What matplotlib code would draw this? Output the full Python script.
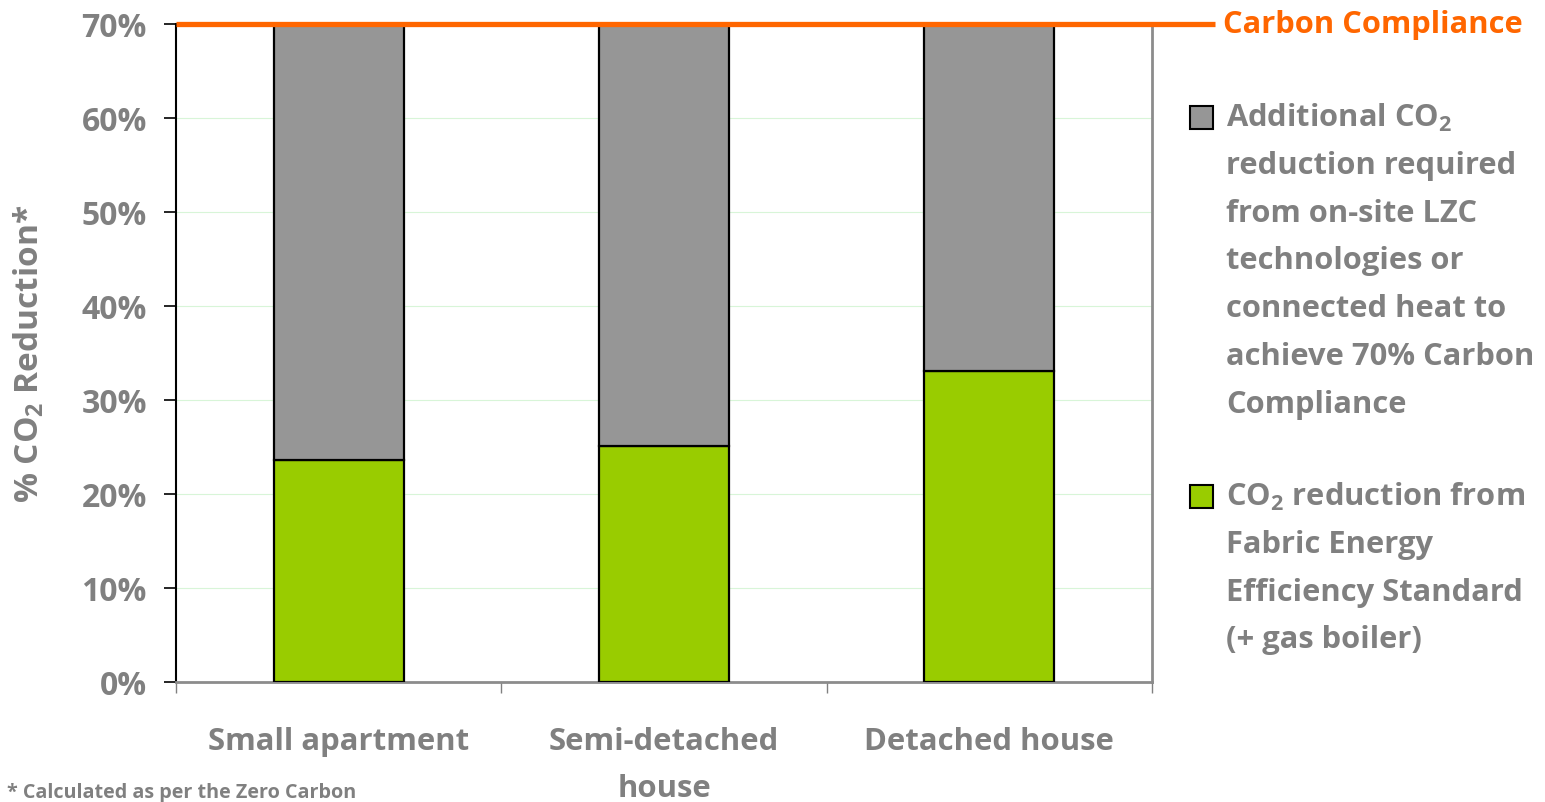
import matplotlib.pyplot as plt
from matplotlib.patches import Rectangle
from matplotlib.transforms import blended_transform_factory

plt.rcParams['font.family'] = ['Open Sans', 'DejaVu Sans']
plt.rcParams['font.weight'] = 'bold'

categories = ['Small apartment', 'Semi-detached\nhouse', 'Detached house']
fabric = [23.6, 25.1, 33.1]
target = 70
additional = [target - v for v in fabric]
yticks = [0, 10, 20, 30, 40, 50, 60, 70]
legend_grey = ['Additional CO$_\\mathregular{2}$', 'reduction required', 'from on-site LZC',
               'technologies or', 'connected heat to', 'achieve 70% Carbon', 'Compliance']
legend_green = ['CO$_\\mathregular{2}$ reduction from', 'Fabric Energy',
                'Efficiency Standard', '(+ gas boiler)']

grey_txt = '#808080'
orange = '#FF6600'
green = '#99CC00'
grey_bar = '#969696'
W, H = 1545, 803
fs = 22.2

fig = plt.figure(figsize=(W / 100, H / 100), dpi=100)
ax = fig.add_axes([176 / W, 1 - 683 / H, 976 / W, 658 / H])

x = range(len(categories))
b1 = ax.bar(x, fabric, width=0.4, color=green, edgecolor='black', linewidth=1.6, zorder=3)
b2 = ax.bar(x, additional, bottom=fabric, width=0.4, color=grey_bar, edgecolor='black',
            linewidth=1.6, zorder=3)

ax.set_xlim(-0.5, 2.5)
ax.set_ylim(0, target)
ax.set_yticks(yticks)
ax.set_yticklabels([f'{v}%' for v in yticks])
ax.grid(axis='y', color='#d8f5d8', linewidth=0.8, zorder=0)

ax.set_xticks([-0.5, 0.5, 1.5, 2.5])
ax.set_xticklabels([])
ax.set_xticks(list(x), minor=True)
ax.set_xticklabels(categories, minor=True, fontsize=22.4, color=grey_txt, linespacing=1.7)
ax.tick_params(axis='x', which='major', length=8, color='#808080', width=1)
ax.tick_params(axis='x', which='minor', length=0, pad=32)
ax.tick_params(axis='y', length=9, width=1.2, color='black', labelsize=23,
               labelcolor=grey_txt, pad=12)

ax.spines['top'].set_visible(False)
ax.spines['left'].set_color('black')
ax.spines['left'].set_linewidth(1.5)
ax.spines['bottom'].set_color('#8c8c8c')
ax.spines['bottom'].set_linewidth(2)
ax.spines['right'].set_color('#8c8c8c')
ax.spines['right'].set_linewidth(2)

trans = blended_transform_factory(ax.transAxes, ax.transData)
ax.plot([0, 1.065], [target, target], color=orange, linewidth=3.8, transform=trans,
        clip_on=False, zorder=5, solid_capstyle='butt')
ax.text(1.073, target, 'Carbon Compliance', transform=trans, color=orange,
        fontsize=fs, va='center', ha='left')

ax.set_ylabel('% CO$_\\mathregular{2}$ Reduction*', fontsize=24, color=grey_txt,
              fontweight='bold')
ax.yaxis.set_label_coords(-0.133, 0.5)


def legend_block(lines, color, top_px):
    fig.patches.append(Rectangle((1190 / W, 1 - (top_px + 12) / H), 23 / W, 23 / H,
                                 transform=fig.transFigure, facecolor=color,
                                 edgecolor='black', linewidth=1.5))
    for i, line in enumerate(lines):
        fig.text(1226 / W, 1 - (top_px + i * 47.8) / H, line, fontsize=fs,
                 color=grey_txt, va='center', ha='left')


legend_block(legend_grey, grey_bar, 118)
legend_block(legend_green, green, 497)

fig.text(7 / W, 1 - 793 / H, '* Calculated as per the Zero Carbon', fontsize=14.2,
         color=grey_txt, va='center', ha='left')

fig.savefig('out.png', dpi=100)
